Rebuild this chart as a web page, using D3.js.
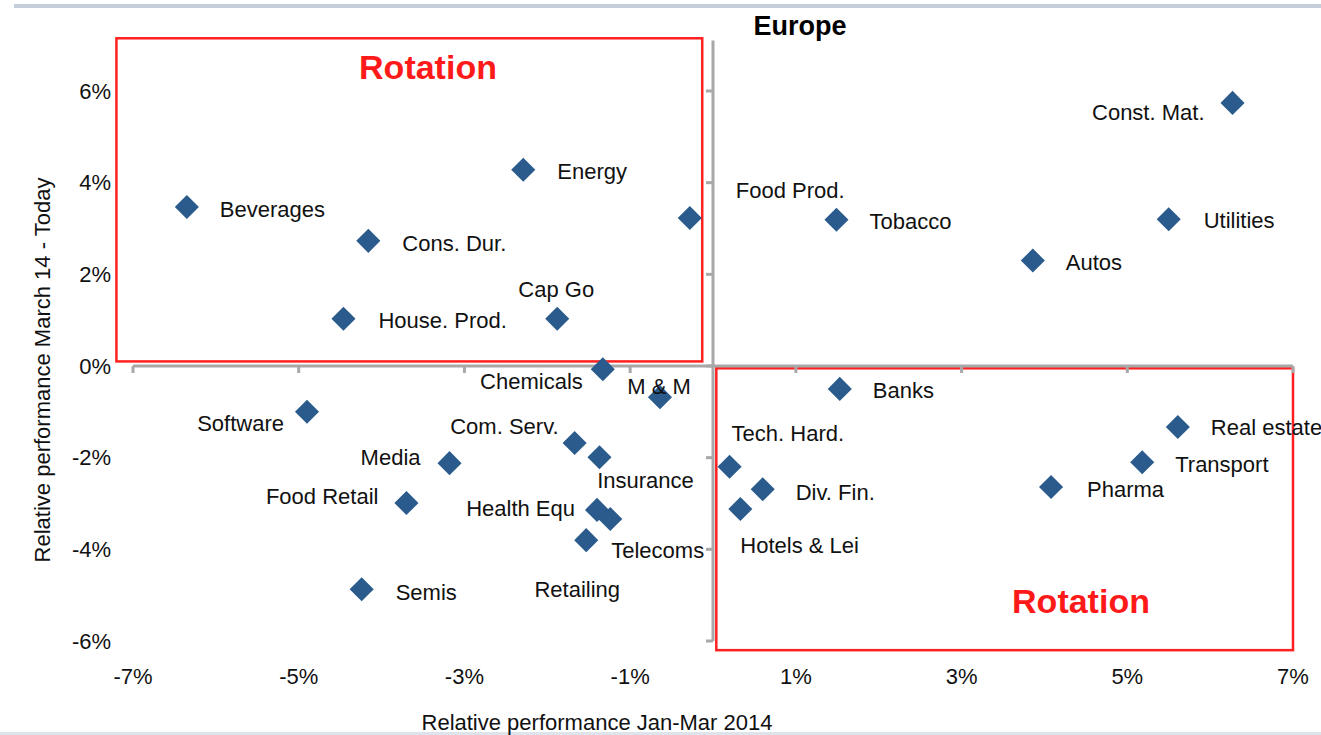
<!DOCTYPE html>
<meta charset="utf-8">
<style>
body { margin: 0; background: #fff; }
text { font-family: "Liberation Sans", Arial, sans-serif; }
.lbl { font-size: 22px; fill: #111; }
.tick-lbl { font-size: 22px; fill: #111; }
.ax { stroke: #a8a8a8; stroke-width: 3; fill: none; }
.box { fill: none; stroke: #ff2020; stroke-width: 2.5; }
</style>
<body>
<script src="https://cdn.jsdelivr.net/npm/d3@7"></script>
<script>

var width = 1321,
    height = 735;

// sectors: relative perf Jan-Mar 2014 (x, %) vs March 14 - today (y, %)
var sectors = ["Const. Mat.", "Utilities", "Autos", "Tobacco", "Food Prod.", "Energy",
  "Beverages", "Cons. Dur.", "House. Prod.", "Cap Go", "Chemicals", "M & M",
  "Software", "Com. Serv.", "Insurance", "Media", "Food Retail", "Health Equ",
  "Telecoms", "Retailing", "Semis", "Banks", "Tech. Hard.", "Div. Fin.",
  "Hotels & Lei", "Real estate", "Transport", "Pharma"];
var xValues = [6.27, 5.5, 3.86, 1.49, -0.28, -2.29,
  -6.35, -4.16, -4.46, -1.88, -1.33, -0.64,
  -4.9, -1.67, -1.37, -3.18, -3.7, -1.4,
  -1.24, -1.53, -4.24, 1.53, 0.2, 0.6,
  0.33, 5.61, 5.18, 4.08];
var yValues = [5.74, 3.2, 2.3, 3.19, 3.23, 4.28,
  3.47, 2.73, 1.03, 1.03, -0.07, -0.68,
  -1.0, -1.68, -1.99, -2.12, -2.99, -3.14,
  -3.34, -3.8, -4.87, -0.5, -2.2, -2.69,
  -3.12, -1.33, -2.1, -2.64];

var xTicks = [-7, -5, -3, -1, 1, 3, 5, 7];
var yTicks = [-6, -4, -2, 0, 2, 4, 6];

// label placement (anchor, dx, dy) per sector
var labelPlace = {
  "Const. Mat.": ["end", -28, 9], "Utilities": ["start", 35, 1], "Autos": ["start", 33, 2],
  "Tobacco": ["start", 33, 2], "Food Prod.": ["start", 46, -28], "Energy": ["start", 34, 1],
  "Beverages": ["start", 33, 2], "Cons. Dur.": ["start", 34, 2], "House. Prod.": ["start", 35, 2],
  "Cap Go": ["middle", -1, -29], "Chemicals": ["end", -20, 12], "M & M": ["middle", -1, -11],
  "Software": ["end", -23, 11], "Com. Serv.": ["end", -16, -17], "Insurance": ["middle", 46, 23],
  "Media": ["end", -29, -6], "Food Retail": ["end", -28, -7], "Health Equ": ["end", -22, -2],
  "Telecoms": ["start", 1, 31], "Retailing": ["middle", -9, 49], "Semis": ["start", 34, 3],
  "Banks": ["start", 33, 1], "Tech. Hard.": ["start", 2, -34], "Div. Fin.": ["start", 33, 3],
  "Hotels & Lei": ["start", 0, 36], "Real estate": ["start", 33, 0], "Transport": ["start", 33, 2],
  "Pharma": ["start", 36, 2]
};

var data = sectors.map(function(s, i) { return {name: s, x: xValues[i], y: yValues[i]}; });

var x = d3.scaleLinear().domain([-7, 7]).range([133, 1293]);
var y = d3.scaleLinear().domain([-6, 6]).range([641, 91]);

var svg = d3.select("body").append("svg")
    .attr("width", width)
    .attr("height", height);

// frame bits from the slide
svg.append("rect").attr("x", 14).attr("y", 4).attr("width", width - 14).attr("height", 4).attr("fill", "#c3ceda");
svg.append("rect").attr("x", 0).attr("y", 732).attr("width", width).attr("height", 3).attr("fill", "#dde4ec");

// rotation boxes
svg.append("rect").attr("class", "box")
    .attr("x", x(-7.2)).attr("y", y(7.15))
    .attr("width", x(-0.13) - x(-7.2)).attr("height", y(0.1) - y(7.15));
svg.append("rect").attr("class", "box")
    .attr("x", x(0.04)).attr("y", y(-0.05))
    .attr("width", x(7) - x(0.04)).attr("height", y(-6.2) - y(-0.05));

// axes through origin
svg.append("line").attr("class", "ax")
    .attr("x1", x(-7)).attr("x2", x(7)).attr("y1", y(0)).attr("y2", y(0));
svg.append("line").attr("class", "ax")
    .attr("x1", x(0)).attr("x2", x(0)).attr("y1", y(-6)).attr("y2", y(7.1));

svg.selectAll(".xt").data(xTicks).enter().append("line")
    .attr("class", "ax").attr("stroke-width", 2)
    .attr("x1", function(d) { return x(d); }).attr("x2", function(d) { return x(d); })
    .attr("y1", y(0)).attr("y2", y(0) + 7);
svg.selectAll(".yt").data(yTicks).enter().append("line")
    .attr("class", "ax").attr("stroke-width", 2)
    .attr("x1", x(0) - 7).attr("x2", x(0))
    .attr("y1", function(d) { return y(d); }).attr("y2", function(d) { return y(d); });

// tick labels at the plot edges
svg.selectAll(".xl").data(xTicks).enter().append("text")
    .attr("class", "tick-lbl")
    .attr("x", function(d) { return x(d); })
    .attr("y", 684)
    .attr("text-anchor", "middle")
    .text(function(d) { return d + "%"; });
svg.selectAll(".yl").data(yTicks).enter().append("text")
    .attr("class", "tick-lbl")
    .attr("x", 111)
    .attr("y", function(d) { return y(d); })
    .attr("dy", "0.35em")
    .attr("text-anchor", "end")
    .text(function(d) { return d + "%"; });

// titles
svg.append("text").attr("x", 800).attr("y", 35).attr("text-anchor", "middle")
    .attr("font-size", 27).attr("font-weight", "bold").text("Europe");
svg.append("text").attr("class", "lbl").attr("x", 597).attr("y", 730).attr("text-anchor", "middle")
    .text("Relative performance Jan-Mar 2014");
svg.append("text").attr("class", "lbl")
    .attr("transform", "translate(50,370) rotate(-90)")
    .attr("text-anchor", "middle")
    .text("Relative performance March 14 - Today");

svg.append("text").attr("x", 428).attr("y", 79).attr("text-anchor", "middle")
    .attr("font-size", 34).attr("font-weight", "bold").attr("fill", "#ff1a1a").text("Rotation");
svg.append("text").attr("x", 1081).attr("y", 613).attr("text-anchor", "middle")
    .attr("font-size", 34).attr("font-weight", "bold").attr("fill", "#ff1a1a").text("Rotation");

// points
var sym = d3.symbol().type(d3.symbolSquare).size(290);
svg.selectAll(".pt").data(data).enter().append("path")
    .attr("d", sym)
    .attr("fill", "#2a5b8c")
    .attr("transform", function(d) { return "translate(" + x(d.x) + "," + y(d.y) + ") rotate(45)"; });

svg.selectAll(".pl").data(data).enter().append("text")
    .attr("class", "lbl")
    .attr("x", function(d) { return x(d.x) + labelPlace[d.name][1]; })
    .attr("y", function(d) { return y(d.y) + labelPlace[d.name][2]; })
    .attr("dy", "0.35em")
    .attr("text-anchor", function(d) { return labelPlace[d.name][0]; })
    .text(function(d) { return d.name; });

</script>
